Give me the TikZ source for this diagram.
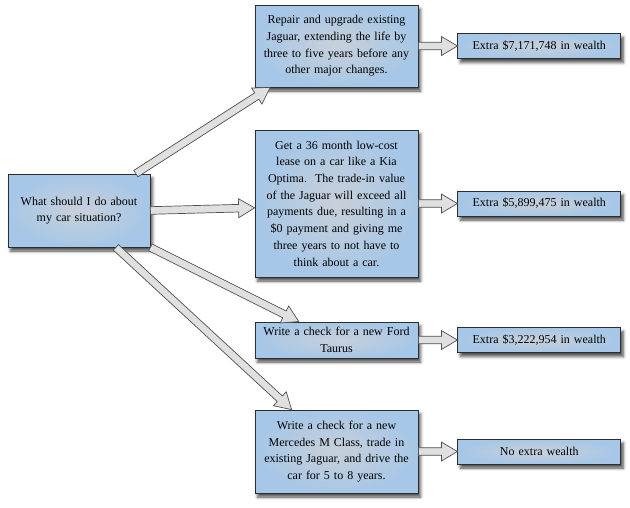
\documentclass[tikz,border=0pt]{standalone}
\usepackage{fontspec}
\setmainfont{Liberation Serif}
\usetikzlibrary{positioning,calc,shadows.blur}

\definecolor{boxblue}{RGB}{166,199,231}
\definecolor{boxmid}{RGB}{200,208,218}
\definecolor{boxline}{RGB}{45,45,45}
\definecolor{arrowfill}{RGB}{224,224,224}
\definecolor{arrowline}{RGB}{80,80,80}

% hollow block arrow between two points
\newcommand\fatarrow[2]{%
  \path[fat arrow] let \p1=#1, \p2=#2,
    \n1={atan2(\y2-\y1,\x2-\x1)}, \n2={veclen(\x2-\x1,\y2-\y1)} in
    [shift={(\p1)}, rotate=\n1]
    (0pt,-3.8pt) -- ({\n2-16pt},-3.8pt) -- ({\n2-16pt},-9.5pt)
    -- (\n2,0pt) -- ({\n2-16pt},9.5pt) -- ({\n2-16pt},3.8pt)
    -- (0pt,3.8pt) -- cycle;}

\begin{document}
\begin{tikzpicture}[x=1pt,y=-1pt,node distance=39pt,
    card/.style={draw=boxline,line width=0.8pt,inner color=boxmid,outer color=boxblue,
      blur shadow={shadow xshift=2.5pt,shadow yshift=-4pt,shadow blur radius=3pt,shadow opacity=70},
      align=center,inner sep=0pt,font=\fontsize{12}{16.7}\selectfont},
    choice/.style={card,minimum width=163pt,text width=152pt},
    result/.style={card,minimum width=163pt,minimum height=25pt,text width=152pt},
    fat arrow/.style={draw=arrowline,fill=arrowfill,line width=0.7pt,line join=miter}]

  \useasboundingbox (0,0) rectangle (630,507);

  % question
  \node[card,minimum width=142pt,minimum height=73pt,text width=132pt] (root) at (79,210.5)
    {What should I do about\\my car situation?};

  % options
  \node[choice,minimum height=82pt] (repair) at (336.5,46)
    {Repair and upgrade existing\\Jaguar, extending the life by\\three to five years before any\\other major changes.};
  \node[choice,minimum height=147pt] (lease) at (336.5,203.5)
    {Get a 36 month low-cost\\lease on a car like a Kia\\Optima.\ \ The trade-in value\\of the Jaguar will exceed all\\payments due, resulting in a\\\$0 payment and giving me\\three years to not have to\\think about a car.};
  \node[choice,minimum height=36pt] (ford) at (336.5,340)
    {Write a check for a new Ford\\Taurus};
  \node[choice,minimum height=83pt] (merc) at (336.5,451.5)
    {Write a check for a new\\Mercedes M Class, trade in\\existing Jaguar, and drive the\\car for 5 to 8 years.};

  % outcomes
  \node[result,right=of repair] (wrepair) {Extra \$7,171,748 in wealth};
  \node[result,right=of lease] (wlease) {Extra \$5,899,475 in wealth};
  \node[result,right=of ford] (wford) {Extra \$3,222,954 in wealth};
  \node[result,right=of merc] (wmerc) {No extra wealth};

  \fatarrow{(root.33)}{(repair.212)}
  \fatarrow{(root.east)}{(lease.183)}
  \fatarrow{(root.south east)}{(ford.154)}
  \fatarrow{(root.-45)}{(merc.137)}

  \fatarrow{(repair.east)}{(wrepair.west)}
  \fatarrow{(lease.east)}{(wlease.west)}
  \fatarrow{(ford.east)}{(wford.west)}
  \fatarrow{(merc.east)}{(wmerc.west)}
\end{tikzpicture}
\end{document}
